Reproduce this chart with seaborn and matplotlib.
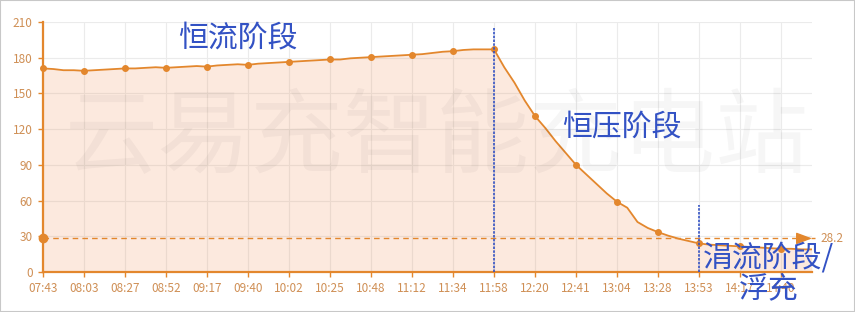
import matplotlib
matplotlib.use("Agg")
import matplotlib.pyplot as plt
import seaborn as sns
import pandas as pd
from matplotlib.patches import Rectangle

# ---- data ----
tick_labels = ["07:43", "08:03", "08:27", "08:52", "09:17", "09:40", "10:02",
               "10:25", "10:48", "11:12", "11:34", "11:58", "12:20", "12:41",
               "13:04", "13:28", "13:53", "14:17", "14:40"]
points_per_tick = 4
current = [
    171, 170.5, 169.5, 169.5,   # 07:43
    169, 169.5, 170, 170.5,     # 08:03
    171, 171, 171.5, 172,       # 08:27
    171.5, 172, 172.5, 173,     # 08:52
    172.5, 173.5, 174, 174.5,   # 09:17
    174, 175, 175.5, 176,       # 09:40
    176.5, 177, 177.5, 178,     # 10:02
    178.5, 178.5, 179.5, 180,   # 10:25
    180.5, 181, 181.5, 182,     # 10:48
    182.5, 183, 184, 185,       # 11:12
    185.5, 186.5, 187, 187,     # 11:34
    187, 172, 159, 144,         # 11:58
    131, 121, 110, 100,         # 12:20
    90, 82, 74, 66,             # 12:41
    59, 54, 42, 37,             # 13:04
    33.5, 30.5, 28, 26,         # 13:28
    24, 23, 22.5, 22,           # 13:53
    21.5, 21, 20.5, 20,         # 14:17
    19.5, 19.5, 19, 19,         # 14:40
]
mark_value = 28.2
phase_lines = [(44, 205), (64, 56)]   # (index, top value)
phase_texts = ["恒流阶段", "恒压阶段", "涓流阶段/", "浮充"]
watermark = "云易充智能充电站"
y_ticks = [0, 30, 60, 90, 120, 150, 180, 210]

df = pd.DataFrame({"idx": list(range(len(current))), "value": current})

# ---- style ----
sns.set_theme(style="white")
plt.rcParams["font.family"] = ["Noto Sans CJK SC", "DejaVu Sans"]

orange = "#e3872d"
tan = "#cf8f55"
blue = "#3352c4"

fig = plt.figure(figsize=(8.55, 3.12), dpi=100)
fig.patch.set_facecolor("white")
W, H = 855, 312
ax_left, ax_right, ax_top, ax_bottom = 43, 811.75, 22, 272
ax = fig.add_axes([ax_left / W, (H - ax_bottom) / H,
                   (ax_right - ax_left) / W, (ax_bottom - ax_top) / H])

n = len(current)
ax.set_xlim(0, n - 1)
ax.set_ylim(0, 210)

# grid
xt = list(range(0, n, points_per_tick))
ax.set_xticks(xt)
ax.set_xticklabels(tick_labels)
ax.set_yticks(y_ticks)
ax.grid(True, color="#ebebeb", linewidth=0.8, zorder=0)
ax.set_axisbelow(True)

# fill + line
ax.fill_between(df["idx"], df["value"], 0, color=(240/255, 145/255, 90/255),
                alpha=0.2, linewidth=0, zorder=1)
sns.lineplot(data=df, x="idx", y="value", ax=ax, color=orange, linewidth=1.3,
             zorder=3)
mk = df[df["idx"] % points_per_tick == 0]
ax.plot(mk["idx"], mk["value"], "o", color=orange, markersize=4, zorder=4,
        clip_on=False)

# watermark
ax.text(0.512, 0.53, watermark, transform=ax.transAxes, fontsize=67,
        color="black", alpha=0.035, ha="center", va="center", zorder=5)

# mark line
ax.plot([0, n - 1 + 0.3], [mark_value, mark_value], linestyle=(0, (4, 3)),
        color=orange, linewidth=1, zorder=3, clip_on=False)
ax.plot(0, mark_value, "o", color=orange, markersize=6, zorder=4, clip_on=False)
ax.annotate("", xy=(n - 1 + 0.3, mark_value), xytext=(n - 1 - 1.0, mark_value),
            arrowprops=dict(arrowstyle="-|>,head_length=0.8,head_width=0.3",
                            color=orange, lw=1), annotation_clip=False, zorder=4)
ax.annotate(f"{mark_value}", xy=(n - 1 + 0.3, mark_value), xytext=(4, 0),
            textcoords="offset points", va="center", ha="left",
            fontsize=8.5, color=tan, annotation_clip=False)

# phase lines
for xi, top in phase_lines:
    ax.plot([xi, xi], [0, top], linestyle=(0, (1.5, 0.8)), color=blue,
            linewidth=1.2, zorder=6, clip_on=False)

# phase texts (positions in pixels -> figure coords)
def fig_xy(px, py):
    return px / W, 1 - py / H

tkw = dict(fontsize=21.5, color=blue, ha="center", va="center", zorder=7)
fig.text(*fig_xy(238, 38), phase_texts[0], **tkw)
fig.text(*fig_xy(622, 127), phase_texts[1], **tkw)
fig.text(*fig_xy(768, 258), phase_texts[2], **tkw)
fig.text(*fig_xy(769, 289), phase_texts[3], **tkw)

# axes style
sns.despine(ax=ax)
for s in ["left", "bottom"]:
    ax.spines[s].set_color(orange)
    ax.spines[s].set_linewidth(1.6)
ax.tick_params(axis="both", colors=orange, labelcolor=tan, labelsize=8.5,
               length=3.5, width=1, pad=4, bottom=True, left=True)
ax.set_xlabel("")
ax.set_ylabel("")

# border
fig.patches.append(Rectangle((0, 0), 1, 1, transform=fig.transFigure,
                             fill=False, edgecolor="#c8c8c8", linewidth=1.5))

fig.savefig("out.png", dpi=100)
